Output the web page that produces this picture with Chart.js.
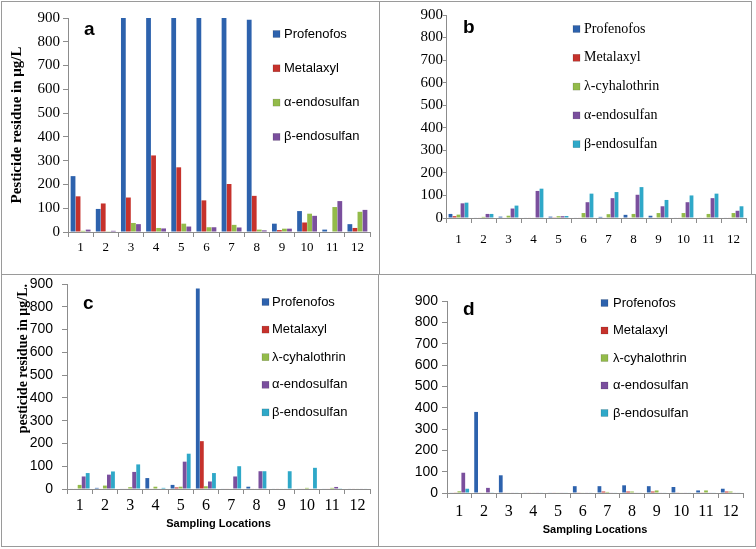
<!DOCTYPE html>
<html>
<head>
<meta charset="utf-8">
<script src="https://cdn.jsdelivr.net/npm/chart.js@4.4.1/dist/chart.umd.min.js"></script>
<style>
    html, body { margin: 0; padding: 0; background: #fff; }
    #page { position: relative; width: 756px; height: 549px; overflow: hidden; background: #fff; }
    .frame { position: absolute; border: 1px solid #9a9a9a; box-sizing: border-box; }
    canvas.layer { position: absolute; left: 0; top: 0; }
</style>
</head>
<body>
<div id="page">
    <div class="frame" style="left:1px;top:1px;width:379px;height:274px"></div>
    <div class="frame" style="left:379px;top:1px;width:373px;height:274px"></div>
    <div class="frame" style="left:1px;top:274px;width:378px;height:273px"></div>
    <div class="frame" style="left:378px;top:274px;width:378px;height:273px"></div>
    <canvas id="chartA" class="layer" width="756" height="549"></canvas>
    <canvas id="chartB" class="layer" width="756" height="549"></canvas>
    <canvas id="chartC" class="layer" width="756" height="549"></canvas>
    <canvas id="chartD" class="layer" width="756" height="549"></canvas>
</div>

<script>
// ---- data (µg/L) ----
const locations = ["1", "2", "3", "4", "5", "6", "7", "8", "9", "10", "11", "12"];
const yTickValues = [0, 100, 200, 300, 400, 500, 600, 700, 800, 900];

const namesA = ["Profenofos", "Metalaxyl", "α-endosulfan", "β-endosulfan"];
const namesBCD = ["Profenofos", "Metalaxyl", "λ-cyhalothrin", "α-endosulfan", "β-endosulfan"];

// panel a
const aProfenofos = [235, 97, 900, 900, 900, 900, 900, 893, 35, 88, 10, 33];
const aMetalaxyl  = [150, 120, 145, 322, 272, 133, 202, 152, 8, 40, 2, 17];
const aAlpha      = [5, 3, 38, 17, 35, 20, 30, 10, 14, 77, 105, 85];
const aBeta       = [10, 5, 33, 15, 23, 20, 19, 7, 14, 68, 130, 93];

// panel b
const bProfenofos = [18, 2, 6, 2, 6, 2, 5, 14, 10, 2, 2, 2];
const bMetalaxyl  = [8, 2, 2, 2, 3, 2, 2, 2, 2, 2, 2, 2];
const bLambda     = [15, 5, 10, 2, 8, 22, 17, 18, 22, 22, 18, 22];
const bAlpha      = [65, 18, 42, 120, 8, 70, 88, 103, 52, 70, 88, 32];
const bBeta       = [68, 18, 55, 130, 9, 108, 115, 137, 80, 100, 108, 52];

// panel c
const cProfenofos = [2, 5, 2, 48, 18, 880, 2, 10, 2, 2, 2, 2];
const cMetalaxyl  = [2, 2, 2, 2, 7, 210, 2, 2, 2, 2, 2, 2];
const cLambda     = [18, 15, 8, 10, 10, 12, 2, 2, 2, 5, 5, 2];
const cAlpha      = [55, 63, 75, 2, 120, 33, 55, 78, 2, 2, 9, 2];
const cBeta       = [70, 77, 108, 5, 155, 70, 100, 78, 78, 93, 3, 2];

// panel d
const dProfenofos = [2, 380, 83, 2, 2, 32, 32, 36, 32, 28, 12, 20];
const dMetalaxyl  = [3, 2, 2, 2, 2, 3, 7, 7, 7, 3, 3, 7];
const dLambda     = [8, 2, 2, 2, 2, 2, 5, 7, 12, 2, 12, 7];
const dAlpha      = [95, 24, 2, 2, 2, 2, 2, 2, 2, 2, 2, 2];
const dBeta       = [20, 3, 2, 2, 2, 2, 2, 2, 2, 2, 2, 2];

// ---- styles ----
const SERIF = "'Liberation Serif', 'Times New Roman', serif";
const SANS = "'Liberation Sans', Arial, sans-serif";
const AXIS = "#8c8c8c";
const fill4 = ["#2d62ad", "#c6322c", "#93bb4a", "#7a4f9d"];
const fill5 = ["#2d62ad", "#c6322c", "#93bb4a", "#7a4f9d", "#2fa8c8"];

// legend + panel letter drawn inside the plot area
const decor = {
    id: "decor",
    afterDraw(chart, args, o) {
        const ctx = chart.ctx;
        ctx.save();
        ctx.fillStyle = "#000";
        ctx.font = o.tagFont;
        ctx.textAlign = "left";
        ctx.textBaseline = "alphabetic";
        ctx.fillText(o.tag, o.tagX, o.tagY);

        ctx.font = o.legendFont;
        ctx.textBaseline = "middle";
        chart.data.datasets.forEach((ds, i) => {
            const y = o.legendY + i * o.legendStep;
            ctx.fillStyle = ds.backgroundColor;
            ctx.fillRect(o.legendX, y - 3.5, 7, 7);
            ctx.strokeStyle = "rgba(0,0,0,0.25)";
            ctx.lineWidth = 0.5;
            ctx.strokeRect(o.legendX, y - 3.5, 7, 7);
            ctx.fillStyle = "#000";
            ctx.fillText(ds.label, o.legendX + o.textGap, y);
        });
        ctx.restore();
    }
};

function buildPanel(canvasId, names, values, colors, p) {

    const datasets = names.map((name, i) => ({
        label: name,
        data: values[i],
        backgroundColor: colors[i],
        borderWidth: 0,
        categoryPercentage: 0.8,
        barPercentage: 0.95
    }));

    return new Chart(document.getElementById(canvasId), {

        type: "bar",

        data: { labels: locations, datasets: datasets },

        options: {
            responsive: false,
            animation: false,
            events: [],
            layout: { padding: p.padding },
            plugins: {
                legend: { display: false },
                tooltip: { enabled: false },
                decor: p.decor
            },
            scales: {
                x: {
                    afterFit: s => { s.height = p.xH; },
                    grid: { drawOnChartArea: false, offset: true, tickLength: 5, color: AXIS },
                    border: { color: AXIS },
                    ticks: { font: p.xFont, color: "#000", padding: p.xPad, maxRotation: 0, autoSkip: false },
                    title: p.xTitle
                        ? { display: true, text: "Sampling Locations", color: "#000", padding: 0,
                            font: { family: SANS, size: 11, weight: "bold" } }
                        : { display: false }
                },
                y: {
                    min: 0,
                    max: 900,
                    afterFit: s => { s.width = p.yW; },
                    afterBuildTicks: s => { s.ticks = yTickValues.map(v => ({ value: v })); },
                    grid: { drawOnChartArea: false, tickLength: p.yTick, color: AXIS },
                    border: { color: AXIS },
                    ticks: { font: p.yFont, color: "#000", padding: p.yPad },
                    title: p.yTitle || { display: false }
                }
            }
        },

        plugins: [decor]
    });
}

document.addEventListener("DOMContentLoaded", function () {

    // =========================
    // Panel a
    // =========================
    buildPanel("chartA", namesA, [aProfenofos, aMetalaxyl, aAlpha, aBeta], fill4, {
        padding: { left: 8, top: 18, right: 386, bottom: 287 },
        xH: 30, yW: 60, yTick: 5, yPad: 3, xPad: 3,
        xFont: { family: SERIF, size: 13 },
        yFont: { family: SERIF, size: 15 },
        yTitle: { display: true, text: "Pesticide residue in μg/L", color: "#000", padding: 0,
                  font: { family: SERIF, size: 15, weight: "bold" } },
        decor: { tag: "a", tagX: 84, tagY: 35, tagFont: "bold 19px " + SANS,
                 legendX: 273, legendY: 34, legendStep: 34.3, textGap: 11, legendFont: "13px " + SANS }
    });

    // =========================
    // Panel b
    // =========================
    buildPanel("chartB", namesBCD, [bProfenofos, bMetalaxyl, bLambda, bAlpha, bBeta], fill5, {
        padding: { left: 406, top: 15, right: 10, bottom: 301 },
        xH: 30, yW: 40, yTick: 3, yPad: 0, xPad: 9,
        xFont: { family: SERIF, size: 13 },
        yFont: { family: SERIF, size: 15 },
        decor: { tag: "b", tagX: 463, tagY: 33, tagFont: "bold 19px " + SANS,
                 legendX: 573, legendY: 29, legendStep: 28.8, textGap: 11, legendFont: "14px " + SERIF }
    });

    // =========================
    // Panel c
    // =========================
    buildPanel("chartC", namesBCD, [cProfenofos, cMetalaxyl, cLambda, cAlpha, cBeta], fill5, {
        padding: { left: 15, top: 284, right: 386, bottom: 18 },
        xH: 42, yW: 52, yTick: 5, yPad: 9, xPad: 2, xTitle: true,
        xFont: { family: SERIF, size: 16 },
        yFont: { family: SANS, size: 14 },
        yTitle: { display: true, text: "pesticide residue in μg/L.", color: "#000", padding: 0, align: "end",
                  font: { family: SERIF, size: 14, weight: "bold" } },
        decor: { tag: "c", tagX: 83, tagY: 309, tagFont: "bold 19px " + SANS,
                 legendX: 262, legendY: 302, legendStep: 27.6, textGap: 10, legendFont: "13px " + SANS }
    });

    // =========================
    // Panel d
    // =========================
    buildPanel("chartD", namesBCD, [dProfenofos, dMetalaxyl, dLambda, dAlpha, dBeta], fill5, {
        padding: { left: 407, top: 301, right: 13, bottom: 12 },
        xH: 44, yW: 40, yTick: 5, yPad: 4, xPad: 4, xTitle: true,
        xFont: { family: SERIF, size: 16 },
        yFont: { family: SANS, size: 14 },
        decor: { tag: "d", tagX: 463, tagY: 315, tagFont: "bold 19px " + SANS,
                 legendX: 601, legendY: 303, legendStep: 27.5, textGap: 12, legendFont: "13px " + SANS }
    });

});
</script>
</body>
</html>
